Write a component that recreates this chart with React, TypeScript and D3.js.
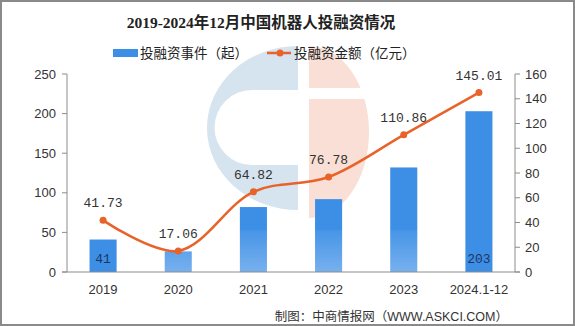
import React from "react";
import * as d3 from "d3";

const categories = ["2019", "2020", "2021", "2022", "2023", "2024.1-12"];
const events = [41, 26, 82, 92, 132, 203];
const eventLabels = ["41", "", "", "", "", "203"];
const amounts = [41.73, 17.06, 64.82, 76.78, 110.86, 145.01];
const leftTicks = [0, 50, 100, 150, 200, 250];
const rightTicks = [0, 20, 40, 60, 80, 100, 120, 140, 160];

const W = 575;
const H = 326;
const plotL = 67;
const plotR = 515;
const plotT = 74;
const plotB = 272;

const BLUE = "#3d8fe6";
const ORANGE = "#e8622a";
const AXIS = "#8c8c8c";
const sans = "'Liberation Sans', 'Noto Sans CJK SC', sans-serif";
const mono = "'Liberation Mono', 'Noto Sans CJK SC', monospace";

export default function App() {
  const x = d3
    .scaleBand<string>()
    .domain(categories)
    .range([plotL, plotR])
    .paddingInner(0.64)
    .paddingOuter(0.3);
  const yL = d3.scaleLinear().domain([0, 250]).range([plotB, plotT]);
  const yR = d3.scaleLinear().domain([0, 160]).range([plotB, plotT]);
  const cx = (c: string) => (x(c) as number) + x.bandwidth() / 2;

  const line = d3
    .line<number>()
    .x((_, i) => cx(categories[i]))
    .y((d) => yR(d))
    .curve(d3.curveCatmullRom.alpha(0.5));

  const blueShape =
    "M298,46 A91,82 0 0 0 298,210 Z M298,90 L252,90 A37.5,37.5 0 0 0 252,165 L298,165 Z";
  const salmonShape = "M309,46 A60,86 0 0 1 309,218 Z";

  return (
    <svg
      width={W}
      height={H}
      style={{ position: "absolute", left: 0, top: 0, background: "#fff" }}
    >
      <defs>
        <linearGradient id="fade" x1="0" y1="0" x2="0" y2="1">
          <stop offset="0" stopColor="#fff" stopOpacity={0.05} />
          <stop offset="1" stopColor="#fff" stopOpacity={0.3} />
        </linearGradient>
      </defs>
      <rect x={1} y={1} width={W - 2} height={H - 2} fill="#fff" stroke="#8a8a8a" strokeWidth={2} />
      {/* watermark */}
      <path d={blueShape} fill="#d5e4ef" fillRule="evenodd" />
      <path d={salmonShape} fill="#f9dfd5" />
      <rect x={305} y={88} width={70} height={11} fill="#fff" />

      <text
        x={261}
        y={28}
        textAnchor="middle"
        fontSize={15.5}
        fontWeight="bold"
        fontFamily="'Liberation Serif', 'Noto Sans CJK SC', serif"
        fill="#222"
      >
        2019-2024年12月中国机器人投融资情况
      </text>

      {/* legend */}
      <rect x={113} y={49} width={25} height={8} fill={BLUE} />
      <text x={140} y={58} fontSize={13.5} fontFamily={sans} fill="#222">
        投融资事件（起）
      </text>
      <line x1={267} x2={291} y1={53} y2={53} stroke={ORANGE} strokeWidth={2.5} />
      <circle cx={280} cy={53} r={3.5} fill={ORANGE} />
      <text x={294} y={58} fontSize={13.5} fontFamily={sans} fill="#222">
        投融资金额（亿元）
      </text>

      {/* bars */}
      {events.map((v, i) => (
        <rect
          key={categories[i]}
          x={x(categories[i])}
          y={yL(v)}
          width={x.bandwidth()}
          height={plotB - yL(v)}
          fill={BLUE}
        />
      ))}
      {/* faded band */}
      <rect x={140} y={230} width={285} height={42} fill="url(#fade)" />

      {eventLabels.map((t, i) =>
        t ? (
          <text
            key={"el" + i}
            x={cx(categories[i])}
            y={263}
            textAnchor="middle"
            fontSize={13}
            fontFamily={mono}
            fill="#1f3560"
          >
            {t}
          </text>
        ) : null
      )}

      {/* axes */}
      <line x1={plotL} x2={plotL} y1={plotT} y2={plotB} stroke={AXIS} />
      <line x1={plotR} x2={plotR} y1={plotT} y2={plotB} stroke={AXIS} />
      <line x1={plotL - 5} x2={plotR + 5} y1={plotB} y2={plotB} stroke={AXIS} />
      {leftTicks.map((t) => (
        <g key={"l" + t}>
          <line x1={plotL - 5} x2={plotL} y1={yL(t)} y2={yL(t)} stroke={AXIS} />
          <text
            x={plotL - 11}
            y={yL(t) + 4.5}
            textAnchor="end"
            fontSize={13}
            fontFamily={sans}
            fill="#333"
          >
            {t}
          </text>
        </g>
      ))}
      {rightTicks.map((t) => (
        <g key={"r" + t}>
          <line x1={plotR} x2={plotR + 5} y1={yR(t)} y2={yR(t)} stroke={AXIS} />
          <text
            x={plotR + 10}
            y={yR(t) + 4.5}
            textAnchor="start"
            fontSize={13}
            fontFamily={sans}
            fill="#333"
          >
            {t}
          </text>
        </g>
      ))}
      {categories.map((c) => (
        <text
          key={"x" + c}
          x={cx(c)}
          y={294}
          textAnchor="middle"
          fontSize={13}
          fontFamily={sans}
          fill="#333"
        >
          {c}
        </text>
      ))}

      {/* line */}
      <path d={line(amounts) || ""} fill="none" stroke={ORANGE} strokeWidth={2.5} />
      {amounts.map((v, i) => (
        <circle key={"p" + i} cx={cx(categories[i])} cy={yR(v)} r={3.5} fill={ORANGE} />
      ))}
      {amounts.map((v, i) => (
        <text
          key={"al" + i}
          x={cx(categories[i])}
          y={yR(v) - 13}
          textAnchor="middle"
          fontSize={13}
          fontFamily={mono}
          fill="#333"
        >
          {v.toFixed(2)}
        </text>
      ))}

      <text x={508} y={321} textAnchor="end" fontSize={12.5} fontFamily={sans} fill="#333">
        制图：中商情报网（WWW.ASKCI.COM）
      </text>
    </svg>
  );
}
